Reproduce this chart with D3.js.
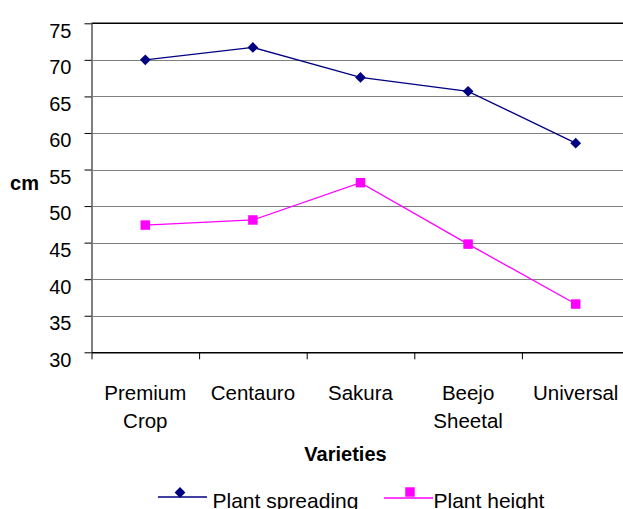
<!DOCTYPE html>
<html><head><meta charset="utf-8">
<script src="https://cdn.jsdelivr.net/npm/d3@7"></script>
<style>
html,body{margin:0;padding:0;background:#fff;}
svg{display:block;font-family:"Liberation Sans",Arial,sans-serif;}
</style></head>
<body><svg id="c" width="623" height="509"></svg>
<script>
const categories = ["Premium Crop", "Centauro", "Sakura", "Beejo Sheetal", "Universal"];
const plantSpreading = [70.0, 71.7, 67.6, 65.7, 58.6];
const plantHeight = [47.4, 48.1, 53.2, 44.8, 36.6];
const yTicks = [30, 35, 40, 45, 50, 55, 60, 65, 70, 75];
const seriesNames = ["Plant spreading", "Plant height"];

const svg = d3.select("#c");
const X0 = 91.5, X1 = 629.5, Y0 = 352.3, Y1 = 23.3;

const x = d3.scaleBand().domain(categories).range([X0, X1]).padding(0);
const xi = d3.scaleLinear().domain([0, categories.length]).range([X0, X1]);
const y = d3.scaleLinear().domain([30, 75]).range([Y0, Y1]);
const cx = c => x(c) + x.bandwidth() / 2;

// gridlines (dotted)
svg.append("g").selectAll("line")
  .data(yTicks.filter(t => t > 30 && t < 75))
  .join("line")
  .attr("x1", X0).attr("x2", 623)
  .attr("y1", d => Math.round(y(d)) + 0.5).attr("y2", d => Math.round(y(d)) + 0.5)
  .attr("stroke", "#000").attr("stroke-width", 1).attr("stroke-dasharray", "1,1");

// top border
svg.append("line").attr("x1", X0).attr("x2", 623)
  .attr("y1", y(75)).attr("y2", y(75)).attr("stroke", "#000").attr("stroke-width", 1.5);

// y axis
const yAxis = svg.append("g").attr("transform", `translate(${X0},0)`)
  .call(d3.axisLeft(y).tickValues(yTicks).tickSize(7).tickSizeOuter(0).tickPadding(13));
yAxis.select(".domain").attr("stroke", "#808080").attr("stroke-width", 2);
yAxis.selectAll(".tick line").attr("stroke", "#000").attr("stroke-width", 1);
yAxis.selectAll(".tick text").attr("y", 7.5).attr("font-size", 20)
  .attr("font-family", "Liberation Sans, Arial, sans-serif").attr("fill", "#000");

// x axis tick marks at band boundaries
const xTickAxis = svg.append("g").attr("transform", `translate(0,${Y0})`)
  .call(d3.axisBottom(xi).tickValues(d3.range(categories.length + 1)).tickSize(7).tickSizeOuter(0).tickFormat(""));
xTickAxis.select(".domain").attr("stroke", "#000").attr("stroke-width", 1.5);
xTickAxis.selectAll(".tick line").attr("stroke", "#000").attr("stroke-width", 1);

// x category labels
const xLab = svg.append("g").attr("transform", `translate(0,${Y0})`)
  .call(d3.axisBottom(x).tickSize(0).tickPadding(0));
xLab.select(".domain").remove();
xLab.selectAll(".tick text").each(function(d) {
  const t = d3.select(this);
  t.text(null).attr("y", 0).attr("dy", null)
    .attr("font-size", 20.5).attr("font-family", "Liberation Sans, Arial, sans-serif").attr("fill", "#000");
  d.split(" ").forEach((w, i) => {
    t.append("tspan").attr("x", 0).attr("y", 47.7 + i * 28).text(w);
  });
});

// lines
const line = d3.line().x((d, i) => cx(categories[i])).y(d => y(d));
svg.append("path").datum(plantSpreading).attr("d", line)
  .attr("fill", "none").attr("stroke", "#000080").attr("stroke-width", 1.3);
svg.append("path").datum(plantHeight).attr("d", line)
  .attr("fill", "none").attr("stroke", "#FF00FF").attr("stroke-width", 1.3);

const diamond = d3.symbol().type(d3.symbolSquare).size(58);
const square = d3.symbol().type(d3.symbolSquare).size(90);

svg.append("g").selectAll("path").data(plantSpreading).join("path")
  .attr("d", diamond)
  .attr("transform", (d, i) => `translate(${cx(categories[i])},${y(d)}) rotate(45)`)
  .attr("fill", "#000080");
svg.append("g").selectAll("path").data(plantHeight).join("path")
  .attr("d", square)
  .attr("transform", (d, i) => `translate(${cx(categories[i])},${y(d)})`)
  .attr("fill", "#FF00FF");

// axis titles
svg.append("text").attr("x", 24.5).attr("y", 189.5).attr("text-anchor", "middle")
  .attr("font-size", 20).attr("font-weight", "bold").text("cm");
svg.append("text").attr("x", 345.5).attr("y", 460.5).attr("text-anchor", "middle")
  .attr("font-size", 20).attr("font-weight", "bold").text("Varieties");

// legend
const leg = svg.append("g");
leg.append("line").attr("x1", 158).attr("x2", 207).attr("y1", 497).attr("y2", 497)
  .attr("stroke", "#000080").attr("stroke-width", 1.3);
leg.append("path").attr("d", diamond).attr("transform", "translate(180,492.5) rotate(45)").attr("fill", "#000080");
leg.append("text").attr("x", 212.5).attr("y", 508).attr("font-size", 21).text(seriesNames[0]);
leg.append("line").attr("x1", 384).attr("x2", 433).attr("y1", 498).attr("y2", 498)
  .attr("stroke", "#FF00FF").attr("stroke-width", 1.3);
leg.append("path").attr("d", square).attr("transform", "translate(410,492)").attr("fill", "#FF00FF");
leg.append("text").attr("x", 433.5).attr("y", 508).attr("font-size", 21).text(seriesNames[1]);
</script></body></html>
